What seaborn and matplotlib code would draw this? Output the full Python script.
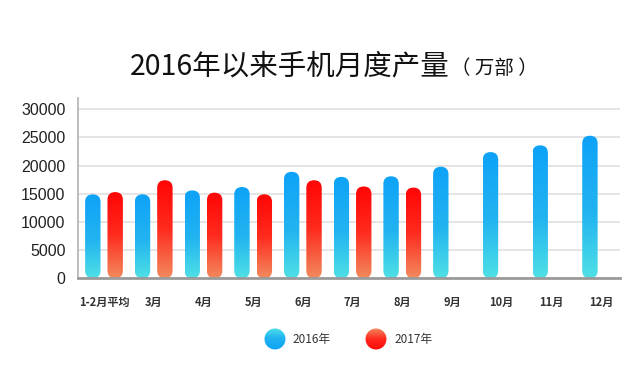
import numpy as np
import pandas as pd
import matplotlib
matplotlib.use("Agg")
import matplotlib.pyplot as plt
import seaborn as sns
from matplotlib.patches import FancyBboxPatch, Circle
from matplotlib.colors import LinearSegmentedColormap

# ---- data ----
months = ["1-2月平均", "3月", "4月", "5月", "6月", "7月", "8月", "9月", "10月", "11月", "12月"]
prod_2016 = [14900, 14900, 15600, 16200, 18900, 18000, 18100, 19800, 22400, 23600, 25300]
prod_2017 = [15300, 17400, 15200, 14900, 17400, 16300, 16100, np.nan, np.nan, np.nan, np.nan]
years = ["2016年", "2017年"]
yticks = [0, 5000, 10000, 15000, 20000, 25000, 30000]
title_main = "2016年以来手机月度产量"
title_unit = "（ 万部 ）"

df = pd.DataFrame({
    "month": months * 2,
    "value": prod_2016 + prod_2017,
    "year": [years[0]] * len(months) + [years[1]] * len(months),
})

sns.set_theme(style="white")
plt.rcParams["font.family"] = ["Noto Sans CJK SC", "DejaVu Sans"]

W, H = 637, 365
fig = plt.figure(figsize=(W / 100, H / 100), dpi=100)
ax = fig.add_axes([78 / W, 1 - 278.3 / H, (620 - 78) / W, (278.3 - 98) / H])

sns.barplot(data=df, x="month", y="value", hue="year", order=months,
            hue_order=years, width=0.9, dodge=True, ax=ax, legend=False,
            palette=["#1aa8f5", "#ff1010"])

cmaps = [
    LinearSegmentedColormap.from_list("b", [(0, "#4fe0e6"), (0.45, "#22b4f0"), (1, "#0ea2f8")]),
    LinearSegmentedColormap.from_list("r", [(0, "#f28a5e"), (0.5, "#ff2a1e"), (1, "#ff0505")]),
]

ymax = 32000
bw = 0.31
ry = 7.6 / ((278.3 - 98) / ymax)  # radius in data y units
rx = bw / 2
aspect = ry / rx
grad = np.linspace(0, 1, 256).reshape(-1, 1)

for ci, cont in enumerate(ax.containers):
    for p in cont:
        h = p.get_height()
        p.set_visible(False)
        if not np.isfinite(h) or h <= 0:
            continue
        xc = p.get_x() + p.get_width() / 2
        x0 = xc - bw / 2
        patch = FancyBboxPatch((x0, 0), bw, h,
                               boxstyle=f"round,pad=0,rounding_size={rx}",
                               mutation_aspect=aspect, facecolor="none",
                               edgecolor="none", transform=ax.transData)
        ax.add_patch(patch)
        im = ax.imshow(grad, cmap=cmaps[ci], origin="lower", aspect="auto",
                       extent=[x0, x0 + bw, 0, h], zorder=3)
        im.set_clip_path(patch)

ax.set_xlim(-0.523, 10.38)
ax.set_ylim(0, ymax)
ax.set_yticks(yticks)
ax.set_yticklabels([str(v) for v in yticks], fontsize=11.5,
                   family=["Liberation Sans", "DejaVu Sans"], color="#222222")
ax.set_xticks(range(len(months)))
ax.set_xticklabels(months, fontsize=8, fontweight="bold", color="#333333")
ax.tick_params(axis="y", length=0, pad=9)
ax.tick_params(axis="x", length=0, pad=13)
ax.set_xlabel("")
ax.set_ylabel("")
ax.grid(axis="y", color="#e3e3e3", linewidth=1.3, zorder=0)
ax.set_axisbelow(True)
for s in ["top", "right"]:
    ax.spines[s].set_visible(False)
ax.spines["left"].set_color("#b8b8b8")
ax.spines["left"].set_linewidth(1.3)
ax.spines["bottom"].set_color("#9a9a9a")
ax.spines["bottom"].set_linewidth(2)
ax.spines["bottom"].set_zorder(5)

# title
fig.text(130 / W, 1 - 74 / H, title_main, fontsize=20.5, color="#111111",
         ha="left", va="baseline")
fig.text(451 / W, 1 - 74 / H, title_unit, fontsize=14, color="#111111",
         ha="left", va="baseline")

# legend (gradient circles)
lax = fig.add_axes([0, 0, 1, 1], zorder=10)
lax.set_xlim(0, W)
lax.set_ylim(H, 0)
lax.axis("off")
for ci, (cx, tx) in enumerate([(275, 292), (376, 394)]):
    circ = Circle((cx, 339), 10.5, facecolor="none", edgecolor="none",
                  transform=lax.transData)
    lax.add_patch(circ)
    im = lax.imshow(grad, cmap=cmaps[ci], origin="upper", aspect="auto",
                    extent=[cx - 11, cx + 11, 350, 328])
    im.set_clip_path(circ)
    lax.text(tx, 340, years[ci], fontsize=8.5, color="#333333",
             ha="left", va="center")
lax.set_xlim(0, W)
lax.set_ylim(H, 0)

fig.savefig("out.png", dpi=100)
